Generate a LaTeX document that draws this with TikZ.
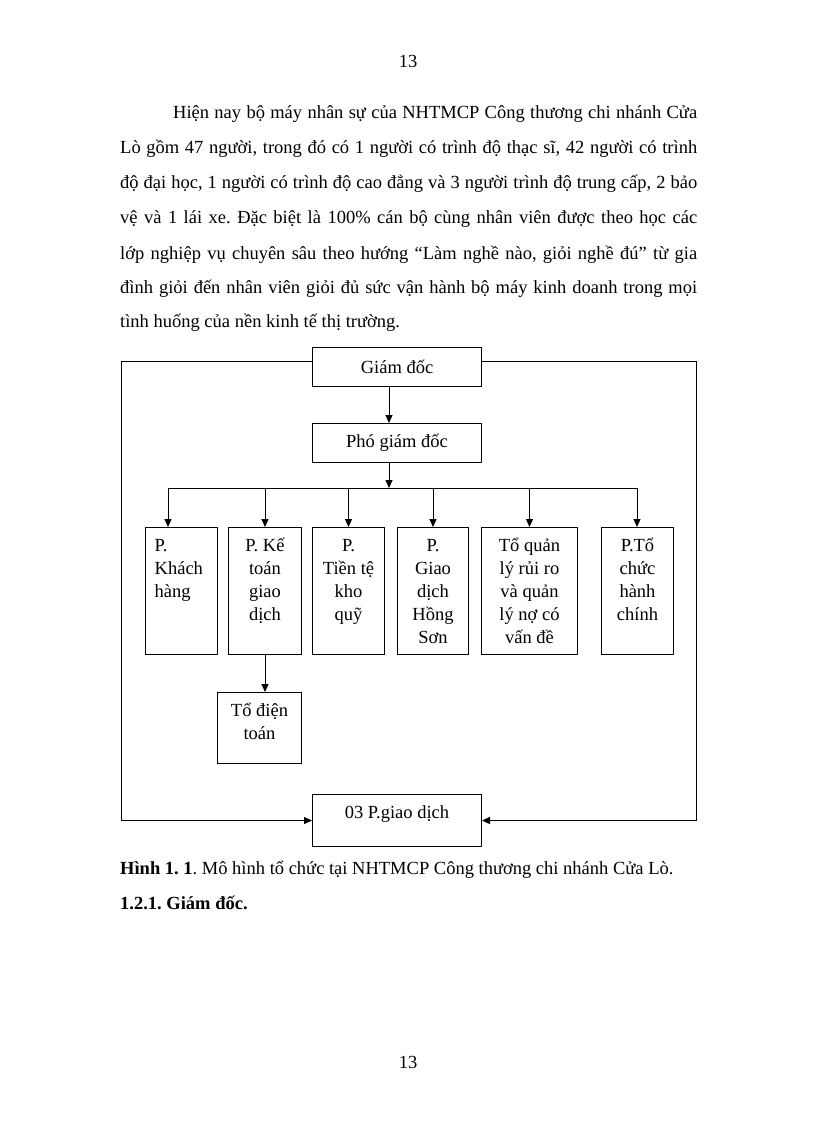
\documentclass[tikz,border=0pt]{standalone}
\usepackage{fontspec}
\setmainfont{Liberation Serif}
\usetikzlibrary{arrows.meta}
\newcommand\firstln{\rule{0pt}{20pt}}
\frenchspacing
\begin{document}
\begin{tikzpicture}[x=1pt,y=-1pt,
  box/.style={draw, line width=1pt, inner sep=0, anchor=north west},
  btxt/.style={font=\fontsize{18.5}{23}\selectfont, align=center, anchor=north, inner sep=0},
  ctxt/.style={font=\fontsize{18.5}{23}\selectfont, inner sep=0},
  conn/.style={line width=1pt},
  arr/.style={conn, -{Triangle[length=8pt,width=7pt]}},
  body/.style={font=\fontsize{18.5}{22}\selectfont, anchor=base west, inner sep=0}
]
\useasboundingbox (0,0) rectangle (816,1123);

% page numbers
\node[body, anchor=base] (pn1) at (408,68) {13};
\node[body, anchor=base] (pn2) at (408,1068) {13};

% paragraph
\node[body] (l1) at (173,119) {\makebox[524pt][s]{Hiện nay bộ máy nhân sự của NHTMCP Công thương chi nhánh Cửa}};
\node[body] (l2) at (120,154) {\makebox[577pt][s]{Lò gồm 47 người, trong đó có 1 người có trình độ thạc sĩ, 42 người có trình}};
\node[body] (l3) at (120,189) {\makebox[577pt][s]{độ đại học, 1 người có trình độ cao đẳng và 3 người trình độ trung cấp, 2 bảo}};
\node[body] (l4) at (120,224) {\makebox[577pt][s]{vệ và 1 lái xe. Đặc biệt là 100\% cán bộ cùng nhân viên được theo học các}};
\node[body] (l5) at (120,259) {\makebox[577pt][s]{lớp nghiệp vụ chuyên sâu theo hướng “Làm nghề nào, giỏi nghề đú” từ gia}};
\node[body] (l6) at (120,293) {\makebox[577pt][s]{đình giỏi đến nhân viên giỏi đủ sức vận hành bộ máy kinh doanh trong mọi}};
\node[body] (l7) at (120,327) {tình huống của nền kinh tế thị trường.};

% boxes
\node[box, minimum width=169pt, minimum height=39pt] (gd) at (312,347) {};
\node[box, minimum width=169pt, minimum height=39pt] (pgd) at (312,423) {};
\node[box, minimum width=72pt, minimum height=127pt] (b1) at (145,527) {};
\node[box, minimum width=73pt, minimum height=127pt] (b2) at (228,527) {};
\node[box, minimum width=72pt, minimum height=127pt] (b3) at (312,527) {};
\node[box, minimum width=71pt, minimum height=127pt] (b4) at (397,527) {};
\node[box, minimum width=96pt, minimum height=127pt] (b5) at (481,527) {};
\node[box, minimum width=72pt, minimum height=127pt] (b6) at (601,527) {};
\node[box, minimum width=84pt, minimum height=71pt] (tdt) at (217,692) {};
\node[box, minimum width=169pt, minimum height=52pt] (gd03) at (312,794) {};

% texts
\node[ctxt] (gdT) at (gd.center) {Giám đốc};
\node[ctxt] (pgdT) at (pgd.center) {Phó giám đốc};
\node[btxt, align=left, anchor=north west] (b1T) at ([xshift=9.5pt,yshift=-4pt]b1.north west) {\firstln P.\\Khách\\hàng};
\node[btxt] (b2T) at ([yshift=-4pt]b2.north) {\firstln P. Kế\\toán\\giao\\dịch};
\node[btxt] (b3T) at ([yshift=-4pt]b3.north) {\firstln P.\\Tiền tệ\\kho\\quỹ};
\node[btxt] (b4T) at ([yshift=-4pt]b4.north) {\firstln P.\\Giao\\dịch\\Hồng\\Sơn};
\node[btxt] (b5T) at ([yshift=-4pt]b5.north) {\firstln Tổ quản\\lý rủi ro\\và quản\\lý nợ có\\vấn đề};
\node[btxt] (b6T) at ([yshift=-4pt]b6.north) {\firstln P.Tổ\\chức\\hành\\chính};
\node[btxt] (tdtT) at ([yshift=-4pt]tdt.north) {\firstln Tổ điện\\toán};
\node[btxt] (gd03T) at ([yshift=-4pt]gd03.north) {\firstln 03 P.giao dịch};

% connectors
\coordinate (gdS) at (389,386);
\coordinate (pgdN) at (389,423);
\coordinate (pgdS) at (389,462);
\coordinate (bus) at (389,488);
\coordinate (busL) at (168,488);
\coordinate (busR) at (637,488);
\draw[arr] (gdS) -- (pgdN);
\draw[arr] (pgdS) -- (bus);
\draw[conn] (busL) -- (busR);
\draw[arr] (busL) -- (b1.north -| busL);
\draw[arr] (b2.north |- bus) -- (b2.north);
\draw[arr] (b3.north |- bus) -- (b3.north);
\draw[arr] (b4.north |- bus) -- (b4.north);
\draw[arr] (b5.north |- bus) -- (b5.north);
\draw[arr] (busR) -- (b6.north -| busR);
\draw[arr] (b2.south) -- (tdt.north -| b2.south);

\coordinate (oTL) at (121,361);
\coordinate (oBL) at (121,820.5);
\coordinate (oTR) at (696,361);
\coordinate (oBR) at (696,820.5);
\draw[arr] (gd.west |- oTL) -- (oTL) -- (oBL) -- (gd03.west |- oBL);
\draw[arr] (gd.east |- oTR) -- (oTR) -- (oBR) -- (gd03.east |- oBR);

% caption
\node[body] (cap) at (120,874) {\textbf{Hình 1. 1}. Mô hình tổ chức tại NHTMCP Công thương chi nhánh Cửa Lò.};
\node[body] (sec) at (120,909) {\textbf{1.2.1. Giám đốc.}};
\end{tikzpicture}
\end{document}
